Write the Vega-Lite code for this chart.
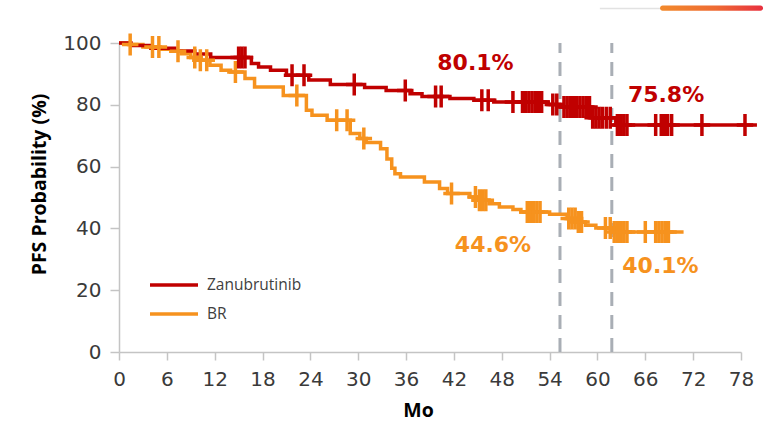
{
  "$schema": "https://vega.github.io/schema/vega-lite/v6.json",
  "width": 622,
  "height": 309,
  "autosize": {"type": "none"},
  "padding": {"left": 119, "top": 43, "right": 33, "bottom": 71},
  "background": "white",
  "config": {
    "view": {"stroke": null},
    "font": "DejaVu Sans",
    "axis": {
      "grid": false,
      "domainColor": "#c4c4c4",
      "domainWidth": 1.5,
      "tickColor": "#c4c4c4",
      "tickWidth": 1.5,
      "labelFont": "DejaVu Sans",
      "labelFontSize": 20,
      "labelColor": "#3a3a3a",
      "labelPadding": 9,
      "labelFlush": false,
      "labelOverlap": false,
      "titleFont": "Open Sans",
      "titleFontSize": 19.5,
      "titleFontWeight": "bold",
      "titleColor": "#000000"
    },
    "axisX": {"tickSize": 8, "titleX": 299, "titleY": 64, "titleBaseline": "alphabetic"},
    "axisY": {"tickSize": 9, "titleAngle": 270, "titleAlign": "center", "titleBaseline": "middle", "titleX": -80, "titleY": 141}
  },
  "datasets": {
    "km": [
      {"arm": "Zanubrutinib", "month": 0, "surv": 100},
      {"arm": "Zanubrutinib", "month": 1.5, "surv": 99.2},
      {"arm": "Zanubrutinib", "month": 4, "surv": 98.3},
      {"arm": "Zanubrutinib", "month": 7, "surv": 97.4},
      {"arm": "Zanubrutinib", "month": 9.5, "surv": 96.4},
      {"arm": "Zanubrutinib", "month": 11.5, "surv": 95.3},
      {"arm": "Zanubrutinib", "month": 16.6, "surv": 93.4},
      {"arm": "Zanubrutinib", "month": 17.5, "surv": 92.2},
      {"arm": "Zanubrutinib", "month": 19, "surv": 91.2},
      {"arm": "Zanubrutinib", "month": 21, "surv": 89.6},
      {"arm": "Zanubrutinib", "month": 23.8, "surv": 88.0},
      {"arm": "Zanubrutinib", "month": 26.5, "surv": 86.6},
      {"arm": "Zanubrutinib", "month": 30.8, "surv": 85.6},
      {"arm": "Zanubrutinib", "month": 33.5, "surv": 84.6},
      {"arm": "Zanubrutinib", "month": 36.5, "surv": 83.6},
      {"arm": "Zanubrutinib", "month": 38, "surv": 82.7},
      {"arm": "Zanubrutinib", "month": 41.5, "surv": 82.0},
      {"arm": "Zanubrutinib", "month": 44.5, "surv": 81.5},
      {"arm": "Zanubrutinib", "month": 47, "surv": 80.9},
      {"arm": "Zanubrutinib", "month": 53.8, "surv": 80.1},
      {"arm": "Zanubrutinib", "month": 55.6, "surv": 79.3},
      {"arm": "Zanubrutinib", "month": 59.2, "surv": 75.8},
      {"arm": "Zanubrutinib", "month": 62.3, "surv": 73.5},
      {"arm": "Zanubrutinib", "month": 80, "surv": 73.5},
      {"arm": "BR", "month": 0, "surv": 100},
      {"arm": "BR", "month": 1.2, "surv": 99.5},
      {"arm": "BR", "month": 3, "surv": 98.7},
      {"arm": "BR", "month": 5.2, "surv": 98.0},
      {"arm": "BR", "month": 6.5, "surv": 97.3},
      {"arm": "BR", "month": 7.8, "surv": 96.5},
      {"arm": "BR", "month": 9, "surv": 95.3},
      {"arm": "BR", "month": 10, "surv": 94.4},
      {"arm": "BR", "month": 11.4, "surv": 92.8},
      {"arm": "BR", "month": 12.8, "surv": 91.2},
      {"arm": "BR", "month": 14, "surv": 90.6},
      {"arm": "BR", "month": 15.8, "surv": 88.5},
      {"arm": "BR", "month": 17, "surv": 85.8},
      {"arm": "BR", "month": 20.6, "surv": 83.0},
      {"arm": "BR", "month": 23.5, "surv": 78.2},
      {"arm": "BR", "month": 24.2, "surv": 76.6},
      {"arm": "BR", "month": 26.1, "surv": 75.0},
      {"arm": "BR", "month": 29, "surv": 70.7},
      {"arm": "BR", "month": 30.2, "surv": 69.1},
      {"arm": "BR", "month": 31, "surv": 67.8},
      {"arm": "BR", "month": 32.8, "surv": 65.8},
      {"arm": "BR", "month": 33.6, "surv": 62.5},
      {"arm": "BR", "month": 34.2, "surv": 59.5},
      {"arm": "BR", "month": 34.6, "surv": 57.7},
      {"arm": "BR", "month": 35.3, "surv": 56.6},
      {"arm": "BR", "month": 38.3, "surv": 55.0},
      {"arm": "BR", "month": 40.2, "surv": 52.9},
      {"arm": "BR", "month": 41.2, "surv": 51.3},
      {"arm": "BR", "month": 44, "surv": 50.2},
      {"arm": "BR", "month": 45.1, "surv": 49.1},
      {"arm": "BR", "month": 46.4, "surv": 48.0},
      {"arm": "BR", "month": 47.7, "surv": 46.9},
      {"arm": "BR", "month": 49.4, "surv": 46.1},
      {"arm": "BR", "month": 50.4, "surv": 45.3},
      {"arm": "BR", "month": 54, "surv": 44.6},
      {"arm": "BR", "month": 56.2, "surv": 43.2},
      {"arm": "BR", "month": 57.5, "surv": 42.1},
      {"arm": "BR", "month": 58.5, "surv": 41.0},
      {"arm": "BR", "month": 59.8, "surv": 40.1},
      {"arm": "BR", "month": 62, "surv": 38.8},
      {"arm": "BR", "month": 70.8, "surv": 38.8}
    ],
    "censored": [
      {"arm": "Zanubrutinib", "month": 15.0, "surv": 95.3},
      {"arm": "Zanubrutinib", "month": 15.4, "surv": 95.3},
      {"arm": "Zanubrutinib", "month": 15.8, "surv": 95.3},
      {"arm": "Zanubrutinib", "month": 21.7, "surv": 89.6},
      {"arm": "Zanubrutinib", "month": 23.2, "surv": 89.6},
      {"arm": "Zanubrutinib", "month": 29.5, "surv": 86.6},
      {"arm": "Zanubrutinib", "month": 35.9, "surv": 84.6},
      {"arm": "Zanubrutinib", "month": 39.7, "surv": 82.7},
      {"arm": "Zanubrutinib", "month": 40.4, "surv": 82.7},
      {"arm": "Zanubrutinib", "month": 45.5, "surv": 81.5},
      {"arm": "Zanubrutinib", "month": 46.3, "surv": 81.5},
      {"arm": "Zanubrutinib", "month": 49.4, "surv": 80.9},
      {"arm": "Zanubrutinib", "month": 50.6, "surv": 80.9},
      {"arm": "Zanubrutinib", "month": 51.0, "surv": 80.9},
      {"arm": "Zanubrutinib", "month": 51.4, "surv": 80.9},
      {"arm": "Zanubrutinib", "month": 51.8, "surv": 80.9},
      {"arm": "Zanubrutinib", "month": 52.2, "surv": 80.9},
      {"arm": "Zanubrutinib", "month": 52.6, "surv": 80.9},
      {"arm": "Zanubrutinib", "month": 53.0, "surv": 80.9},
      {"arm": "Zanubrutinib", "month": 54.4, "surv": 80.1},
      {"arm": "Zanubrutinib", "month": 54.9, "surv": 80.1},
      {"arm": "Zanubrutinib", "month": 55.8, "surv": 79.3},
      {"arm": "Zanubrutinib", "month": 56.2, "surv": 79.3},
      {"arm": "Zanubrutinib", "month": 56.6, "surv": 79.3},
      {"arm": "Zanubrutinib", "month": 57.0, "surv": 79.3},
      {"arm": "Zanubrutinib", "month": 57.4, "surv": 79.3},
      {"arm": "Zanubrutinib", "month": 57.8, "surv": 79.3},
      {"arm": "Zanubrutinib", "month": 58.2, "surv": 79.3},
      {"arm": "Zanubrutinib", "month": 58.6, "surv": 79.3},
      {"arm": "Zanubrutinib", "month": 59.0, "surv": 79.3},
      {"arm": "Zanubrutinib", "month": 59.4, "surv": 75.8},
      {"arm": "Zanubrutinib", "month": 59.8, "surv": 75.8},
      {"arm": "Zanubrutinib", "month": 60.2, "surv": 75.8},
      {"arm": "Zanubrutinib", "month": 60.6, "surv": 75.8},
      {"arm": "Zanubrutinib", "month": 61.1, "surv": 75.8},
      {"arm": "Zanubrutinib", "month": 61.6, "surv": 75.8},
      {"arm": "Zanubrutinib", "month": 62.5, "surv": 73.5},
      {"arm": "Zanubrutinib", "month": 62.9, "surv": 73.5},
      {"arm": "Zanubrutinib", "month": 63.3, "surv": 73.5},
      {"arm": "Zanubrutinib", "month": 63.7, "surv": 73.5},
      {"arm": "Zanubrutinib", "month": 67.3, "surv": 73.5},
      {"arm": "Zanubrutinib", "month": 68.0, "surv": 73.5},
      {"arm": "Zanubrutinib", "month": 68.4, "surv": 73.5},
      {"arm": "Zanubrutinib", "month": 68.8, "surv": 73.5},
      {"arm": "Zanubrutinib", "month": 69.3, "surv": 73.5},
      {"arm": "Zanubrutinib", "month": 73.1, "surv": 73.5},
      {"arm": "Zanubrutinib", "month": 78.5, "surv": 73.5},
      {"arm": "BR", "month": 1.4, "surv": 99.5},
      {"arm": "BR", "month": 4.2, "surv": 98.7},
      {"arm": "BR", "month": 5.0, "surv": 98.7},
      {"arm": "BR", "month": 7.4, "surv": 97.3},
      {"arm": "BR", "month": 9.5, "surv": 95.3},
      {"arm": "BR", "month": 10.2, "surv": 94.4},
      {"arm": "BR", "month": 11.0, "surv": 94.4},
      {"arm": "BR", "month": 14.6, "surv": 90.6},
      {"arm": "BR", "month": 22.3, "surv": 83.0},
      {"arm": "BR", "month": 27.3, "surv": 75.0},
      {"arm": "BR", "month": 28.6, "surv": 75.0},
      {"arm": "BR", "month": 30.7, "surv": 69.1},
      {"arm": "BR", "month": 41.7, "surv": 51.3},
      {"arm": "BR", "month": 44.7, "surv": 50.2},
      {"arm": "BR", "month": 45.2, "surv": 49.1},
      {"arm": "BR", "month": 45.6, "surv": 49.1},
      {"arm": "BR", "month": 46.0, "surv": 49.1},
      {"arm": "BR", "month": 51.2, "surv": 45.3},
      {"arm": "BR", "month": 51.6, "surv": 45.3},
      {"arm": "BR", "month": 52.0, "surv": 45.3},
      {"arm": "BR", "month": 52.4, "surv": 45.3},
      {"arm": "BR", "month": 52.8, "surv": 45.3},
      {"arm": "BR", "month": 56.4, "surv": 43.2},
      {"arm": "BR", "month": 56.8, "surv": 43.2},
      {"arm": "BR", "month": 57.2, "surv": 43.2},
      {"arm": "BR", "month": 57.6, "surv": 42.1},
      {"arm": "BR", "month": 58.0, "surv": 42.1},
      {"arm": "BR", "month": 61.0, "surv": 40.1},
      {"arm": "BR", "month": 61.6, "surv": 40.1},
      {"arm": "BR", "month": 62.1, "surv": 38.8},
      {"arm": "BR", "month": 62.5, "surv": 38.8},
      {"arm": "BR", "month": 62.9, "surv": 38.8},
      {"arm": "BR", "month": 63.3, "surv": 38.8},
      {"arm": "BR", "month": 63.7, "surv": 38.8},
      {"arm": "BR", "month": 66.0, "surv": 38.8},
      {"arm": "BR", "month": 67.3, "surv": 38.8},
      {"arm": "BR", "month": 67.7, "surv": 38.8},
      {"arm": "BR", "month": 68.1, "surv": 38.8},
      {"arm": "BR", "month": 68.5, "surv": 38.8},
      {"arm": "BR", "month": 68.9, "surv": 38.8}
    ],
    "timepoints": [{"month": 55.3}, {"month": 61.8}],
    "readouts": [
      {"arm": "Zanubrutinib", "month": 44.7, "surv": 93.4, "text": "80.1%"},
      {"arm": "Zanubrutinib", "month": 68.6, "surv": 83.1, "text": "75.8%"},
      {"arm": "BR", "month": 46.9, "surv": 34.5, "text": "44.6%"},
      {"arm": "BR", "month": 67.9, "surv": 27.7, "text": "40.1%"}
    ]
  },
  "layer": [
    {
      "data": {"name": "timepoints"},
      "mark": {"type": "rule", "color": "#a9aeb5", "strokeWidth": 3, "strokeDash": [14, 9]},
      "encoding": {
        "x": {
          "field": "month",
          "type": "quantitative",
          "title": "Mo",
          "scale": {"domain": [0, 78], "nice": false, "zero": false},
          "axis": {"values": [0, 6, 12, 18, 24, 30, 36, 42, 48, 54, 60, 66, 72, 78]}
        },
        "y": {
          "datum": 0,
          "type": "quantitative",
          "title": "PFS Probability (%)",
          "scale": {"domain": [0, 100], "nice": false},
          "axis": {"values": [0, 20, 40, 60, 80, 100]}
        },
        "y2": {"datum": 100}
      }
    },
    {
      "data": {"name": "km"},
      "transform": [{"filter": "datum.arm === 'BR'"}],
      "mark": {"type": "line", "interpolate": "step-after", "strokeWidth": 3.5, "clip": false},
      "encoding": {
        "x": {"field": "month", "type": "quantitative", "title": "Mo"},
        "y": {"field": "surv", "type": "quantitative", "title": "PFS Probability (%)"},
        "color": {
          "field": "arm",
          "type": "nominal",
          "scale": {"domain": ["Zanubrutinib", "BR"], "range": ["#C00000", "#F6921E"]},
          "legend": {
            "orient": "none",
            "legendX": 41,
            "legendY": 228,
            "title": null,
            "symbolType": "M-2,0H2",
            "symbolSize": 576,
            "symbolStrokeWidth": 3.5,
            "labelFont": "Open Sans",
            "labelFontSize": 15.5,
            "labelColor": "#404040",
            "labelOffset": 19,
            "rowPadding": 6
          }
        }
      }
    },
    {
      "data": {"name": "km"},
      "transform": [{"filter": "datum.arm === 'Zanubrutinib'"}],
      "mark": {"type": "line", "interpolate": "step-after", "strokeWidth": 3.5, "clip": false},
      "encoding": {
        "x": {"field": "month", "type": "quantitative", "title": "Mo"},
        "y": {"field": "surv", "type": "quantitative", "title": "PFS Probability (%)"},
        "color": {"field": "arm", "type": "nominal"}
      }
    },
    {
      "data": {"name": "censored"},
      "transform": [{"filter": "datum.arm === 'BR'"}],
      "mark": {"type": "point", "shape": "M-0.75,0H0.75M0,-1V1", "size": 484, "filled": false, "strokeWidth": 3.5, "opacity": 1, "clip": false},
      "encoding": {
        "x": {"field": "month", "type": "quantitative", "title": "Mo"},
        "y": {"field": "surv", "type": "quantitative", "title": "PFS Probability (%)"},
        "stroke": {
          "field": "arm",
          "type": "nominal",
          "scale": {"domain": ["Zanubrutinib", "BR"], "range": ["#C00000", "#F6921E"]},
          "legend": null
        }
      }
    },
    {
      "data": {"name": "censored"},
      "transform": [{"filter": "datum.arm === 'Zanubrutinib'"}],
      "mark": {"type": "point", "shape": "M-0.75,0H0.75M0,-1V1", "size": 484, "filled": false, "strokeWidth": 3.5, "opacity": 1, "clip": false},
      "encoding": {
        "x": {"field": "month", "type": "quantitative", "title": "Mo"},
        "y": {"field": "surv", "type": "quantitative", "title": "PFS Probability (%)"},
        "stroke": {"field": "arm", "type": "nominal", "legend": null}
      }
    },
    {
      "data": {"name": "readouts"},
      "mark": {"type": "text", "font": "DejaVu Sans", "fontSize": 22, "fontWeight": "bold", "align": "center", "baseline": "middle"},
      "encoding": {
        "x": {"field": "month", "type": "quantitative", "title": "Mo"},
        "y": {"field": "surv", "type": "quantitative", "title": "PFS Probability (%)"},
        "text": {"field": "text"},
        "fill": {
          "field": "arm",
          "type": "nominal",
          "scale": {"domain": ["Zanubrutinib", "BR"], "range": ["#C00000", "#F6921E"]},
          "legend": null
        }
      }
    },
    {
      "data": {"values": [{}]},
      "mark": {"type": "rule", "color": "#e2e2e2", "strokeWidth": 1.5, "clip": false},
      "encoding": {
        "x": {"datum": 60.3, "type": "quantitative"},
        "x2": {"datum": 67.85},
        "y": {"datum": 111.2, "type": "quantitative"}
      }
    },
    {
      "data": {"values": [{}]},
      "mark": {
        "type": "rect",
        "clip": false,
        "cornerRadius": 2.5,
        "fill": {
          "gradient": "linear",
          "x1": 0, "y1": 0, "x2": 1, "y2": 0,
          "stops": [
            {"offset": 0, "color": "#F28A2C"},
            {"offset": 0.55, "color": "#EE6A33"},
            {"offset": 1, "color": "#E8303F"}
          ]
        }
      },
      "encoding": {
        "x": {"datum": 67.85, "type": "quantitative"},
        "x2": {"datum": 80.76},
        "y": {"datum": 112.1, "type": "quantitative"},
        "y2": {"datum": 110.4}
      }
    }
  ]
}
